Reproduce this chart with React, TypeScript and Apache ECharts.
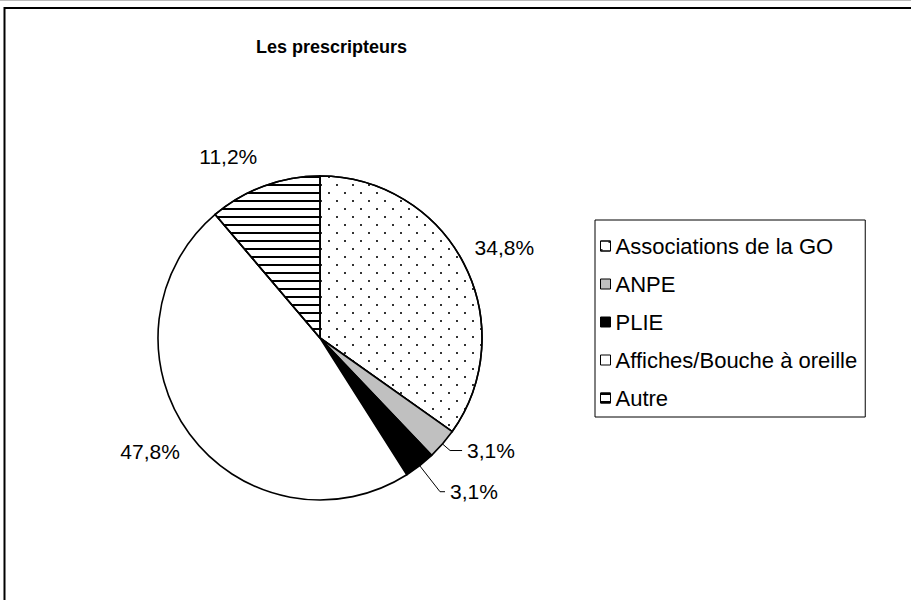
import React, { useEffect, useRef } from 'react';
import * as echarts from 'echarts';

const chartTitle = 'Les prescripteurs';
const categories = ['Associations de la GO', 'ANPE', 'PLIE', 'Affiches/Bouche à oreille', 'Autre'];
const values = [34.8, 3.1, 3.1, 47.8, 11.2];

const FONT = '"Liberation Sans", Arial, sans-serif';

export default function App() {
  const ref = useRef<HTMLDivElement>(null);
  useEffect(() => {
    if (!ref.current) return;
    const chart = echarts.init(ref.current, null, { renderer: 'svg' });

    const dotDecal = {
      symbol: 'rect',
      symbolSize: 1,
      color: '#333',
      dashArrayX: [[2, 14], [0, 8, 2, 6]],
      dashArrayY: [2, 6],
      rotation: 0,
    };
    const stripeDecal = {
      symbol: 'rect',
      symbolSize: 1,
      color: '#000',
      dashArrayX: [1, 0],
      dashArrayY: [2, 6],
      rotation: 0,
    };
    const fills = ['#ffffff', '#c0c0c0', '#000000', '#ffffff', '#ffffff'];
    const decals: any[] = [dotDecal, null, null, null, stripeDecal];
    const lineLengths = [12, 10, 33, 12, 20];
    const lineLengths2 = [0, 12, 5, 0, 0];
    const smallSlice = (v: number) => v < 5;

    const data = categories.map((name, i) => {
      const item: any = {
        name,
        value: values[i],
        itemStyle: { color: fills[i] },
        labelLine: {
          length: lineLengths[i],
          length2: lineLengths2[i],
          lineStyle: { opacity: smallSlice(values[i]) ? 1 : 0 },
        },
      };
      if (decals[i]) item.itemStyle.decal = decals[i];
      return item;
    });

    chart.setOption({
      animation: false,
      backgroundColor: '#ffffff',
      title: {
        text: chartTitle,
        left: 251,
        top: 33,
        textStyle: { fontFamily: FONT, fontSize: 18, fontWeight: 'bold', color: '#000' },
      },
      legend: {
        orient: 'vertical',
        left: 595,
        top: 220,
        padding: [15, 8, 8, 5],
        itemWidth: 10,
        itemHeight: 10,
        itemGap: 16,
        icon: 'rect',
        borderColor: '#000',
        borderWidth: 1,
        textStyle: { fontFamily: FONT, fontSize: 22, lineHeight: 22, color: '#000' },
        itemStyle: { borderColor: '#000', borderWidth: 1 },
      },
      graphic: [
        {
          type: 'line',
          shape: { x1: 0, y1: 0.5, x2: 911, y2: 0.5 },
          style: { stroke: '#bbbbbb', lineWidth: 1 },
          silent: true,
        },
        {
          type: 'rect',
          shape: { x: 4.5, y: 8, width: 1000, height: 700 },
          style: { fill: 'none', stroke: '#000', lineWidth: 2 },
          silent: true,
          z: -1,
        },
      ],
      series: [
        {
          type: 'pie',
          center: [320, 338],
          radius: 162,
          startAngle: 90,
          clockwise: true,
          avoidLabelOverlap: true,
          emphasis: { disabled: true },
          itemStyle: { borderColor: '#000', borderWidth: 1.6 },
          label: {
            show: true,
            position: 'outside',
            fontFamily: FONT,
            fontSize: 21,
            color: '#000',
            formatter: (p: any) => p.value.toFixed(1).replace('.', ',') + '%',
          },
          labelLine: {
            show: true,
            length: 12,
            length2: 0,
            lineStyle: { color: '#000', width: 1 },
          },
          labelLayout: (p: any) => {
            if (smallSlice(values[p.dataIndex])) return {};
            const pts = p.labelLinePoints;
            if (!pts || pts.length < 2) return {};
            const p1 = pts[0];
            const p2 = pts[1];
            const right = p2[0] >= p1[0];
            const down = p2[1] >= p1[1];
            return {
              x: p2[0],
              y: p2[1],
              align: right ? 'left' : 'right',
              verticalAlign: down ? 'top' : 'bottom',
            };
          },
          data,
        },
      ],
    });

    return () => chart.dispose();
  }, []);

  return (
    <div
      ref={ref}
      style={{ position: 'absolute', left: 0, top: 0, width: 911, height: 600 }}
    />
  );
}
